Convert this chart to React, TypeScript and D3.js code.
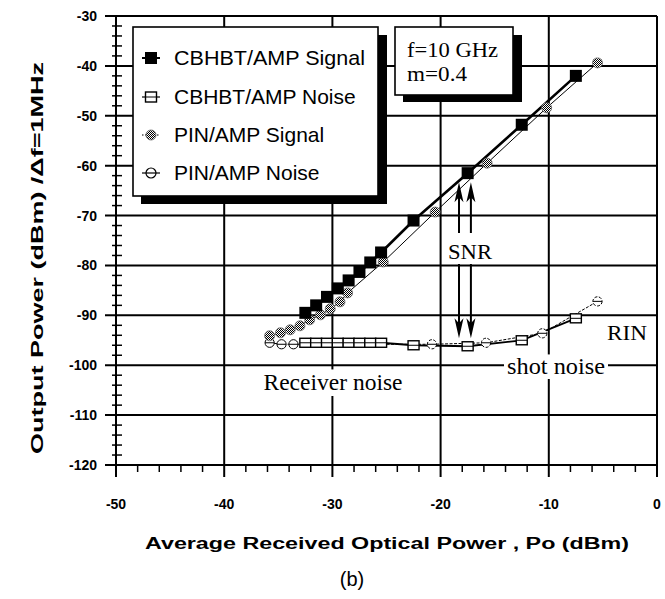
import React from "react";
import * as d3 from "d3";

const W = 665;
const H = 599;

// Axis ticks
const xTicks = [-50, -40, -30, -20, -10, 0];
const yTicks = [-30, -40, -50, -60, -70, -80, -90, -100, -110, -120];

// CBHBT/AMP received signal and noise power (dBm) vs optical power (dBm)
const cbSignalX = [-32.5, -31.5, -30.5, -29.5, -28.5, -27.5, -26.5, -25.5, -22.5, -17.5, -12.5, -7.5];
const cbSignalY = [-89.5, -88, -86.3, -84.6, -83, -81.3, -79.4, -77.4, -71, -61.5, -51.8, -42];
const cbNoiseX = [-32.5, -31.5, -30.5, -29.5, -28.5, -27.5, -26.5, -25.5, -22.5, -17.5, -12.5, -7.5];
const cbNoiseY = [-95.5, -95.5, -95.5, -95.5, -95.5, -95.5, -95.5, -95.5, -96, -96.2, -95, -90.6];

// PIN/AMP received signal and noise power
const pinSignalX = [-35.8, -34.8, -33.9, -33, -32.1, -31.1, -30.2, -29.3, -28.6, -25.3, -20.5, -15.7, -10.2, -5.5];
const pinSignalY = [-94.1, -93.5, -92.9, -92.1, -90.9, -89.9, -88.7, -87.3, -85.5, -79.3, -69.3, -59.5, -48.4, -39.4];
const pinNoiseX = [-35.8, -34.7, -33.6, -20.8, -15.8, -10.6, -5.5];
const pinNoiseY = [-95.5, -95.8, -95.8, -95.8, -95.5, -93.6, -87.2];

const legendLabels = ["CBHBT/AMP Signal", "CBHBT/AMP Noise", "PIN/AMP Signal", "PIN/AMP Noise"];
const conditionLines = ["f=10 GHz", "m=0.4"];

const x = d3.scaleLinear().domain([-50, 0]).range([116, 657]);
const y = d3.scaleLinear().domain([-120, -30]).range([465, 16]);

const sans = "'Liberation Sans', Arial, Helvetica, sans-serif";
const serif = "'Liberation Serif', 'Times New Roman', serif";

const zip = (xs: number[], ys: number[]) => xs.map((v, i) => [v, ys[i]] as [number, number]);
const line = d3.line<[number, number]>().x((d) => x(d[0])).y((d) => y(d[1]));

function Arrow({ px, tipY, tailY }: { px: number; tipY: number; tailY: number }) {
  const dir = tailY > tipY ? 1 : -1; // 1: points up
  const hl = 20;
  const hw = 4.5;
  const head = `M${px},${tipY} L${px - hw},${tipY + dir * hl} L${px},${tipY + dir * (hl - 5)} L${px + hw},${tipY + dir * hl} Z`;
  return (
    <g>
      <line x1={px} x2={px} y1={tipY + dir * 10} y2={tailY} stroke="#000" strokeWidth={2} />
      <path d={head} fill="#000" />
    </g>
  );
}

function LabelBox({ text, cx, baseline, size, w, pad }: { text: string; cx: number; baseline: number; size: number; w: number; pad?: number }) {
  const p = pad ?? 4;
  return (
    <g>
      <rect x={cx - w / 2 - p} y={baseline - size * 0.72 - p} width={w + 2 * p} height={size * 0.72 + 2 * p + 2} fill="#fff" />
      <text x={cx} y={baseline} textAnchor="middle" fontFamily={serif} fontSize={size} textLength={w} lengthAdjust="spacingAndGlyphs">
        {text}
      </text>
    </g>
  );
}

export default function App() {
  const minorX = d3.range(-50, 0.01, 2).filter((v) => v % 10 !== 0);
  const minorY = d3.range(-120, -29.99, 2).filter((v) => v % 10 !== 0);

  const cbSig = zip(cbSignalX, cbSignalY);
  const cbNoi = zip(cbNoiseX, cbNoiseY);
  const pinSig = zip(pinSignalX, pinSignalY);
  const pinNoi = zip(pinNoiseX, pinNoiseY);

  const legendY = [58, 97, 135, 173];
  const lx = 151;

  return (
    <svg width={W} height={H} viewBox={`0 0 ${W} ${H}`} style={{ display: "block", position: "absolute", left: 0, top: 0, background: "#fff" }}>
      <defs>
        <pattern id="dither" width={2} height={2} patternUnits="userSpaceOnUse">
          <rect width={2} height={2} fill="#fff" />
          <rect x={0} y={0} width={1} height={1} fill="#000" />
          <rect x={1} y={1} width={1} height={1} fill="#000" />
        </pattern>
      </defs>
      <rect width={W} height={H} fill="#fff" />

      {/* major grid with outward ticks */}
      {yTicks.map((t) => (
        <line key={"gy" + t} x1={105} x2={x(0)} y1={y(t)} y2={y(t)} stroke="#000" strokeWidth={2} />
      ))}
      {xTicks.map((t) => (
        <line key={"gx" + t} x1={x(t)} x2={x(t)} y1={y(-30)} y2={477} stroke="#000" strokeWidth={2} />
      ))}
      {minorY.map((t) => (
        <line key={"my" + t} x1={112} x2={122} y1={y(t)} y2={y(t)} stroke="#000" strokeWidth={1.5} />
      ))}
      {minorX.map((t) => (
        <line key={"mx" + t} x1={x(t)} x2={x(t)} y1={y(-120)} y2={472} stroke="#000" strokeWidth={1.5} />
      ))}

      {/* tick labels */}
      {yTicks.map((t) => (
        <text key={"ly" + t} x={97} y={y(t) + 5} textAnchor="end" fontFamily={sans} fontSize={14} fontWeight="bold">
          {String(t)}
        </text>
      ))}
      {xTicks.map((t) => (
        <text key={"lx" + t} x={x(t)} y={509} textAnchor="middle" fontFamily={sans} fontSize={14} fontWeight="bold">
          {String(t)}
        </text>
      ))}

      {/* axis titles */}
      <text x={387} y={549} textAnchor="middle" fontFamily={sans} fontSize={16} fontWeight="bold" textLength={484} lengthAdjust="spacingAndGlyphs">
        Average Received Optical  Power , Po (dBm)
      </text>
      <text x={352} y={586} textAnchor="middle" fontFamily={sans} fontSize={20}>
        (b)
      </text>
      <text transform="translate(43,258) rotate(-90)" textAnchor="middle" fontFamily={sans} fontSize={16} fontWeight="bold" textLength={392} lengthAdjust="spacingAndGlyphs">
        Output  Power  (dBm) /Δf=1MHz
      </text>

      {/* series lines */}
      <path d={line(pinNoi) || ""} fill="none" stroke="#000" strokeWidth={1} strokeDasharray="3,1.5" />
      <path d={line(cbNoi) || ""} fill="none" stroke="#000" strokeWidth={1.8} />
      <path d={line(pinSig) || ""} fill="none" stroke="#000" strokeWidth={1} />
      <path d={line(cbSig) || ""} fill="none" stroke="#000" strokeWidth={2.6} />

      {/* markers */}
      {pinNoi.map((d, i) => (
        <circle key={"pn" + i} cx={x(d[0])} cy={y(d[1])} r={4.6} fill="#fff" stroke="#000" strokeWidth={1} strokeDasharray={i < 3 ? "none" : "3,1.5"} />
      ))}
      {pinNoi.map((d, i) => (
        <line key={"pnl" + i} x1={x(d[0]) - 4.6} x2={x(d[0]) + 4.6} y1={y(d[1])} y2={y(d[1])} stroke="#000" strokeWidth={1} />
      ))}
      {cbNoi.map((d, i) => (
        <g key={"cn" + i}>
          <rect x={x(d[0]) - 5.5} y={y(d[1]) - 4.5} width={11} height={9} fill="#fff" stroke="#000" strokeWidth={1.4} />
          <line x1={x(d[0]) - 5.5} x2={x(d[0]) + 5.5} y1={y(d[1])} y2={y(d[1])} stroke="#000" strokeWidth={1} />
        </g>
      ))}
      {pinSig.map((d, i) => (
        <circle key={"ps" + i} cx={x(d[0])} cy={y(d[1])} r={5} fill="url(#dither)" stroke="#666" strokeWidth={0.8} />
      ))}
      {cbSig.map((d, i) => (
        <rect key={"cs" + i} x={x(d[0]) - 6} y={y(d[1]) - 6} width={12} height={12} fill="#000" />
      ))}

      {/* SNR arrows */}
      <Arrow px={x(-18.3)} tipY={y(-63.3)} tailY={y(-73.5)} />
      <Arrow px={x(-17.2)} tipY={y(-63.3)} tailY={y(-73.5)} />
      <Arrow px={x(-18.3)} tipY={y(-94.6)} tailY={y(-79)} />
      <Arrow px={x(-17.2)} tipY={y(-94.6)} tailY={y(-79)} />

      {/* annotations */}
      <LabelBox text="SNR" cx={470} baseline={259} size={22} w={44} pad={3} />
      <LabelBox text="RIN" cx={627} baseline={340} size={22} w={40} pad={2} />
      <LabelBox text="shot noise" cx={556} baseline={374} size={23} w={98} pad={3} />
      <LabelBox text="Receiver noise" cx={333} baseline={390} size={23} w={139} pad={4} />

      {/* legend */}
      <rect x={141} y={35} width={246} height={169} fill="#000" />
      <rect x={133} y={27} width={245} height={169} fill="#fff" stroke="#000" strokeWidth={1.6} />
      {legendLabels.map((lab, i) => (
        <text key={"lg" + i} x={174} y={legendY[i] + 7} fontFamily={sans} fontSize={21} textLength={i === 0 ? 191 : undefined} lengthAdjust="spacingAndGlyphs">
          {lab}
        </text>
      ))}
      <g>
        <line x1={lx - 9} x2={lx + 9} y1={legendY[0]} y2={legendY[0]} stroke="#000" strokeWidth={2} />
        <rect x={lx - 6} y={legendY[0] - 6} width={12} height={12} fill="#000" />
        <line x1={lx - 9} x2={lx + 9} y1={legendY[1]} y2={legendY[1]} stroke="#000" strokeWidth={1.2} />
        <rect x={lx - 5.5} y={legendY[1] - 5} width={11} height={10} fill="#fff" stroke="#000" strokeWidth={1.4} />
        <line x1={lx - 5.5} x2={lx + 5.5} y1={legendY[1]} y2={legendY[1]} stroke="#000" strokeWidth={1} />
        <line x1={lx - 9} x2={lx + 9} y1={legendY[2]} y2={legendY[2]} stroke="#000" strokeWidth={1} strokeDasharray="1.5,1.5" />
        <circle cx={lx} cy={legendY[2]} r={5} fill="url(#dither)" stroke="#666" strokeWidth={0.8} />
        <line x1={lx - 9} x2={lx + 9} y1={legendY[3]} y2={legendY[3]} stroke="#000" strokeWidth={1.2} />
        <circle cx={lx} cy={legendY[3]} r={5} fill="#fff" stroke="#000" strokeWidth={1.2} />
        <line x1={lx - 5} x2={lx + 5} y1={legendY[3]} y2={legendY[3]} stroke="#000" strokeWidth={1.2} />
      </g>

      {/* operating conditions */}
      <rect x={403} y={35} width={119} height={67} fill="#000" />
      <rect x={395} y={27} width={118} height={68} fill="#fff" stroke="#000" strokeWidth={1.6} />
      {conditionLines.map((s, i) => (
        <text key={"c" + i} x={407} y={57 + i * 24} fontFamily={serif} fontSize={22} textLength={i === 0 ? 91 : 60} lengthAdjust="spacingAndGlyphs">
          {s}
        </text>
      ))}
    </svg>
  );
}
